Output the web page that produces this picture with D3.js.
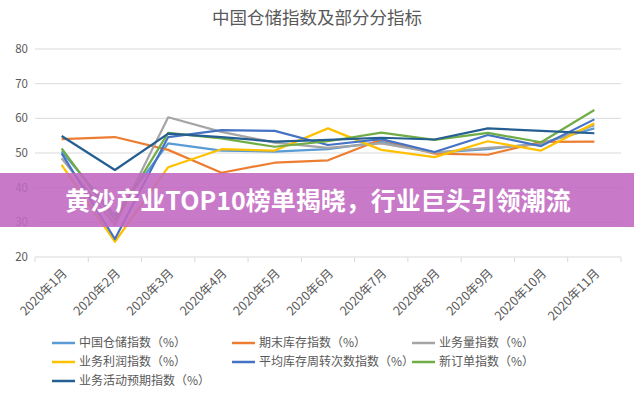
<!DOCTYPE html>
<html>
<head>
<meta charset="utf-8">
<script src="https://cdn.jsdelivr.net/npm/d3@7"></script>
<style>
  body { margin: 0; background: #fff; }
  svg { font-family: "Noto Sans CJK SC", "Noto Sans", sans-serif; }
</style>
</head>
<body>
<svg id="chart" width="634" height="400"></svg>
<script>
var months = ["2020年1月", "2020年2月", "2020年3月", "2020年4月", "2020年5月", "2020年6月",
              "2020年7月", "2020年8月", "2020年9月", "2020年10月", "2020年11月"];
var yTicks = [20, 30, 40, 50, 60, 70, 80];

var seriesNames = ["中国仓储指数（%）", "期末库存指数（%）", "业务量指数（%）",
                   "业务利润指数（%）", "平均库存周转次数指数（%）", "新订单指数（%）",
                   "业务活动预期指数（%）"];
var seriesColors = ["#5b9bd5", "#ed7d31", "#a5a5a5", "#ffc000", "#4472c4", "#70ad47", "#255e91"];

var storageIndex   = [50.5, 32.0, 52.8, 50.7, 50.4, 51.1, 53.2, 50.1, 51.1, 52.8, 57.1];
var endStock       = [54.0, 54.6, 50.9, 44.3, 47.2, 47.9, 53.9, 49.8, 49.5, 53.2, 53.3];
var volume         = [48.5, 29.3, 60.3, 56.1, 53.0, 51.5, 52.8, 50.1, 51.5, 52.5, 58.0];
var profit         = [46.6, 24.4, 45.9, 51.1, 50.7, 57.1, 50.9, 48.8, 53.4, 50.7, 58.6];
var stockTurnover  = [49.9, 25.2, 54.6, 56.6, 56.4, 52.3, 54.0, 50.3, 55.2, 52.0, 59.7];
var newOrders      = [51.3, 30.7, 55.8, 54.2, 51.8, 53.4, 55.9, 53.8, 55.8, 53.1, 62.4];
var expectation    = [54.9, 45.1, 55.6, 54.6, 53.3, 53.8, 54.4, 53.9, 57.1, 56.4, 55.7];

var allSeries = [storageIndex, endStock, volume, profit, stockTurnover, newOrders, expectation];

var svg = d3.select("#chart");

var x = d3.scaleBand().domain(months).range([35, 621]);
var y = d3.scaleLinear().domain([20, 80]).range([257, 49]);

// title
svg.append("text")
    .attr("x", 317).attr("y", 24)
    .attr("text-anchor", "middle")
    .attr("font-size", 17.5)
    .attr("fill", "#595959")
    .text("中国仓储指数及部分分指标");

// gridlines
svg.append("g")
    .selectAll("line")
    .data(yTicks)
    .enter()
    .append("line")
    .attr("x1", 35).attr("x2", 621)
    .attr("y1", function(d) {return y(d);})
    .attr("y2", function(d) {return y(d);})
    .attr("stroke", "#d9d9d9")
    .attr("stroke-width", 1);

// y labels
svg.append("g")
    .selectAll("text")
    .data(yTicks)
    .enter()
    .append("text")
    .attr("x", 28)
    .attr("y", function(d) {return y(d) + 4;})
    .attr("text-anchor", "end")
    .attr("font-size", 11.5)
    .attr("fill", "#595959")
    .text(function(d) {return d;});

// x axis tick marks at band edges
var edges = months.map(function(m) {return x(m);}).concat([x.range()[1]]);
svg.append("g")
    .selectAll("line")
    .data(edges)
    .enter()
    .append("line")
    .attr("x1", function(d) {return d;})
    .attr("x2", function(d) {return d;})
    .attr("y1", y(20)).attr("y2", y(20) + 5)
    .attr("stroke", "#d9d9d9");

// x labels
svg.append("g")
    .selectAll("text")
    .data(months)
    .enter()
    .append("text")
    .attr("transform", function(d) {
        return "translate(" + (x(d) + x.bandwidth() / 2 + 3) + "," + (y(20) + 14) + ") rotate(-45)";
    })
    .attr("text-anchor", "end")
    .attr("dy", "0.35em")
    .attr("font-size", 12.5)
    .attr("fill", "#595959")
    .text(function(d) {return d;});

// lines
var line = d3.line()
    .x(function(d, i) {return x(months[i]) + x.bandwidth() / 2;})
    .y(function(d) {return y(d);});

svg.append("g")
    .selectAll("path")
    .data(allSeries)
    .enter()
    .append("path")
    .attr("d", line)
    .attr("fill", "none")
    .attr("stroke", function(d, i) {return seriesColors[i];})
    .attr("stroke-width", 2.2)
    .attr("stroke-linejoin", "round");

// legend
var legendX = [52, 232, 412];
var legendY = [343, 362, 381];
var legend = svg.append("g")
    .selectAll("g")
    .data(seriesNames)
    .enter()
    .append("g")
    .attr("transform", function(d, i) {
        return "translate(" + legendX[i % 3] + "," + legendY[Math.floor(i / 3)] + ")";
    });
legend.append("line")
    .attr("x1", 0).attr("x2", 23)
    .attr("y1", 0).attr("y2", 0)
    .attr("stroke", function(d, i) {return seriesColors[i];})
    .attr("stroke-width", 2.5);
legend.append("text")
    .attr("x", 27).attr("y", 0)
    .attr("dy", "0.35em")
    .attr("font-size", 12)
    .attr("fill", "#595959")
    .text(function(d) {return d;});

// banner overlay
svg.append("rect")
    .attr("x", 0).attr("y", 173)
    .attr("width", 634).attr("height", 54)
    .attr("fill", "rgb(192,104,192)")
    .attr("fill-opacity", 0.88);

svg.append("text")
    .attr("x", 318).attr("y", 201)
    .attr("dy", "0.35em")
    .attr("text-anchor", "middle")
    .attr("font-size", 25)
    .attr("font-weight", "bold")
    .attr("fill", "#fff")
    .text("黄沙产业TOP10榜单揭晓，行业巨头引领潮流");
</script>
</body>
</html>
